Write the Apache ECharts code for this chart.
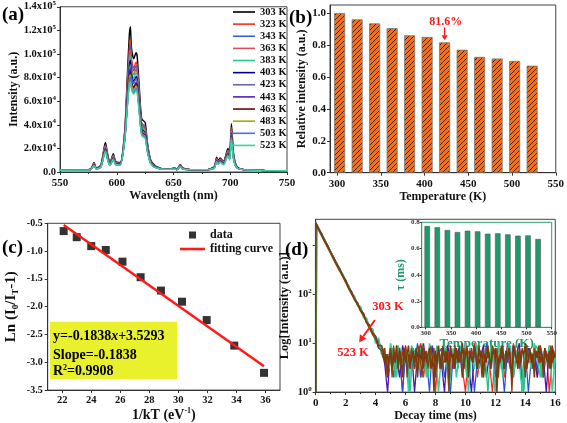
<!DOCTYPE html>
<html><head><meta charset="utf-8">
<script src="https://cdn.jsdelivr.net/npm/echarts@6/dist/echarts.min.js"></script>
<style>html,body{margin:0;padding:0;background:#fff}#c{width:567px;height:423px}</style>
</head><body><div id="c"></div>
<script>
// ---------- (a) emission spectra ----------
const wavelengths = [550,570,577,580,582,586,590,592,594,597,599,603,607,609,611,612,613,615,617,618,620,622,625,627,630,635,645,651,653,656,658,665,680,686,688,689.5,691,694,698,699.5,701,703,706,712,730,750];
const tempLabels = ['303 K','323 K','343 K','363 K','383 K','403 K','423 K','443 K','463 K','483 K','503 K','523 K'];
const spec303 = [1500,1600,2500,8000,3500,6000,25000,15000,8000,15500,9000,8000,35000,75000,115000,123000,105000,96000,101000,98000,70000,45000,42000,25000,10000,4500,2200,3500,2500,6500,3500,2000,2000,5000,12500,9500,12000,9000,20000,15000,41000,15000,4500,2000,1300,1000];
const spec323 = [1500,1600,2400,7400,3300,5600,23000,14000,7500,14300,8400,7500,33000,69000,104000,112000,96000,88000,93000,90000,64500,41500,38500,23000,9200,4200,2200,3300,2400,6000,3300,2000,2000,4600,11500,8800,11000,8300,18400,13800,37700,13800,4200,2000,1300,1000];
const spec343 = [1500,1600,2350,7100,3200,5400,22200,13400,7200,13800,8000,7200,32000,66500,100000,107000,93000,85500,90000,87000,62500,40000,37400,22300,8900,4100,2200,3200,2300,5800,3200,2000,2000,4500,11100,8500,10700,8000,17800,13400,36500,13400,4100,2000,1300,1000];
const spec363 = [1500,1600,2300,6900,3100,5200,21500,12900,6900,13300,7700,7000,31000,64000,97000,103500,90000,82500,87000,84500,60000,38700,36100,21500,8600,4000,2200,3100,2200,5600,3100,2000,2000,4300,10800,8200,10300,7700,17200,12900,35300,12900,4000,2000,1300,1000];
const spec383 = [1500,1600,2250,6600,3000,5000,20700,12500,6700,12900,7500,6800,30000,61500,92000,98500,86500,79500,84000,81500,58000,37300,34900,20800,8300,3900,2200,3000,2200,5400,3000,2000,2000,4200,10400,7900,10000,7500,16600,12500,34000,12500,3900,2000,1300,1000];
const spec403 = [1500,1600,2200,6400,2900,4800,20000,12000,6400,12400,7200,6600,29000,59000,88500,94700,83000,76800,80800,78400,56000,36000,33600,20000,8000,3800,2200,2900,2100,5200,2900,2000,2000,4000,10000,7600,9600,7200,16000,12000,32800,12000,3800,2000,1300,1000];
const spec423 = [1500,1600,2150,6200,2800,4700,19500,11700,6300,12100,7000,6500,28500,57000,85000,91000,80500,74900,78800,76400,54600,35100,32800,19500,7800,3700,2200,2800,2050,5100,2800,2000,2000,3900,9750,7400,9400,7000,15600,11700,32000,11700,3700,2000,1300,1000];
const spec443 = [1500,1600,2100,6000,2700,4500,18800,11300,6000,11600,6800,6300,28000,55000,82000,87300,77500,72000,75800,73500,52500,33800,31500,18800,7500,3600,2200,2700,2000,4900,2700,2000,2000,3800,9400,7100,9000,6800,15000,11300,30800,11300,3600,2000,1300,1000];
const spec463 = [1500,1600,2080,5900,2650,4450,18500,11100,5900,11500,6700,6200,27500,53500,80000,84900,75500,71000,74700,72500,51800,33300,31100,18500,7400,3550,2200,2650,1950,4800,2650,2000,2000,3700,9250,7000,8900,6700,14800,11100,30300,11100,3550,2000,1300,1000];
const spec483 = [1500,1600,2050,5800,2600,4300,18000,10800,5800,11200,6500,6100,27000,52000,78000,82400,73500,69100,72700,70600,50400,32400,30200,18000,7200,3500,2200,2600,1900,4700,2600,2000,2000,3600,9000,6800,8600,6500,14400,10800,29500,10800,3500,2000,1300,1000];
const spec503 = [1500,1600,2000,5600,2500,4200,17500,10500,5600,10900,6300,6000,26500,50500,75500,80000,71500,67200,70700,68600,49000,31500,29400,17500,7000,3400,2200,2500,1850,4600,2500,2000,2000,3500,8750,6650,8400,6300,14000,10500,28700,10500,3400,2000,1300,1000];
const spec523 = [1500,1600,2000,5400,2500,4100,17000,10200,5500,10500,6200,6000,27000,52000,73000,76300,70000,66000,69000,67000,48000,30600,28500,17000,6800,3300,2200,2400,1800,4400,2400,2000,2000,3400,8500,6500,8200,6100,13600,10200,27500,10200,3300,2000,1300,1000];
const spectra = [spec303,spec323,spec343,spec363,spec383,spec403,spec423,spec443,spec463,spec483,spec503,spec523];

// ---------- (b) relative intensity ----------
const temperatures = [303,323,343,363,383,403,423,443,463,483,503,523];
const relIntensity = [1.0,0.96,0.935,0.905,0.86,0.85,0.816,0.77,0.725,0.715,0.70,0.67];

// ---------- (c) Arrhenius fit ----------
const invKT = [22.1,23.0,24.0,25.0,26.15,27.4,28.8,30.25,31.95,33.85,35.9];
const lnRatio = [-0.64,-0.75,-0.91,-0.98,-1.19,-1.47,-1.71,-1.91,-2.24,-2.70,-3.19];
const fitX = [22.1,35.9];
const fitY = [-0.53,-3.07];

// ---------- (d) decay curves ----------
const decayTime = [0,0,0.2,0.4,0.6,0.8,1,1.2,1.4,1.6,1.8,2,2.2,2.4,2.6,2.8,3,3.2,3.4,3.6,3.8,4,4.2,4.4,4.6,4.8,5,5.2,5.4,5.6,5.8,6,6.2,6.4,6.6,6.8,7,7.2,7.4,7.6,7.8,8,8.2,8.4,8.6,8.8,9,9.2,9.4,9.6,9.8,10,10.2,10.4,10.6,10.8,11,11.2,11.4,11.6,11.8,12,12.2,12.4,12.6,12.8,13,13.2,13.4,13.6,13.8,14,14.2,14.4,14.6,14.8,15,15.2,15.4,15.6,15.8,16];
const decayTimeShift = [0,0.1,0.3,0.5,0.7,0.9,1.1,1.3,1.5,1.7,1.9,2.1,2.3,2.5,2.7,2.9,3.1,3.3,3.5,3.7,3.9,4.1,4.3,4.5,4.7,4.9,5.1,5.3,5.5,5.7,5.9,6.1,6.3,6.5,6.7,6.9,7.1,7.3,7.5,7.7,7.9,8.1,8.3,8.5,8.7,8.9,9.1,9.3,9.5,9.7,9.9,10.1,10.3,10.5,10.7,10.9,11.1,11.3,11.5,11.7,11.9,12.1,12.3,12.5,12.7,12.9,13.1,13.3,13.5,13.7,13.9,14.1,14.3,14.5,14.7,14.9,15.1,15.3,15.5,15.7,15.9];
const decayTimeFine = [0,0,0.2,0.4,0.6,0.8,1,1.2,1.4,1.6,1.8,2,2.2,2.4,2.6,2.8,3,3.2,3.4,3.6,3.8,4,4.2,4.4,
  4.5,4.6,4.7,4.8,4.9,5,5.1,5.2,5.3,5.4,5.5,5.6,5.7,5.8,5.9,6,6.1,6.2,6.3,6.4,6.5,6.6,6.7,6.8,6.9,7,7.1,7.2,7.3,7.4,
  7.5,7.6,7.7,7.8,7.9,8,8.1,8.2,8.3,8.4,8.5,8.6,8.7,8.8,8.9,9,9.1,9.2,9.3,9.4,9.5,9.6,9.7,9.8,9.9,10,10.1,10.2,10.3,10.4,
  10.5,10.6,10.7,10.8,10.9,11,11.1,11.2,11.3,11.4,11.5,11.6,11.7,11.8,11.9,12,12.1,12.2,12.3,12.4,12.5,12.6,12.7,12.8,12.9,13,13.1,13.2,13.3,13.4,
  13.5,13.6,13.7,13.8,13.9,14,14.1,14.2,14.3,14.4,14.5,14.6,14.7,14.8,14.9,15,15.1,15.2,15.3,15.4,15.5,15.6,15.7,15.8,15.9,16];
const decayRed = [1,3000,2300,1680,1300,1000,750,560,440,330,255,190,148,108,86,62,52,37,30,21,18,12,11,7,6,2,5,8,3,6,1,9,4,7,3,5,10,2,6,4,8,1,7,3,5,9,2,6,4,8,3,1,7,5,10,2,6,3,9,4,1,7,5,8,2,6,3,10,4,7,1,5,8,3,6,2,9,4,7,1,5,3];
const decayBlue = [1,2900,2250,1700,1320,960,760,550,430,320,260,185,150,105,88,60,54,35,31,20,19,11,12,6,7,4,7,2,9,5,1,6,3,8,4,10,2,7,5,1,9,3,6,8,2,5,1,7,4,9,3,6,2,8,1,5,7,3,10,4,6,2,8,5,1,7,3,9,4,6,2,8,1,5,7,3,9,2,6,4,8,5];
const decayPurple = [1,2850,2180,1750,1260,1010,720,580,410,340,240,200,138,115,78,68,46,41,26,24,15,14,8,8,4,1,8,4,6,2,9,5,3,7,1,6,4,10,3,5,8,2,7,4,1,9,5,3,6,8,2,10,4,1,7,3,5,9,2,6,8,1,4,7,3,9,5,2,6,10,1,4,8,3,6,2,7,5,1,9,4,6];
const decayTeal = [1,2950,2280,1660,1340,970,770,540,450,315,265,180,155,100,92,58,57,33,33,19,20,10,13,6,8,3,10,5,2,8,4,7,1,9,6,3,8,5,2,10,4,7,1,6,9,3,5,8,2,7,4,10,1,6,3,9,5,2,8,4,7,1,10,3,6,5,9,2,7,4,1,8,6,3,10,5,2,7,4,9,1,6];
const decayGreen = [1,2650,1980,1480,1150,850,660,480,380,285,225,165,128,95,75,55,45,32,26,18,16,10,9,5,6,3,8,2,9,5,4,7,1,8,6,3,10,5,2,7,4,9,3,6,8,1,5,7,3,9,6,2,8,4,10,3,5,7,1,9,4,6,8,2,5,10,3,7,4,6,1,8,5,3,9,7,2,6,4,8,3];
const decayMaroon = [1,2700,2050,1560,1180,900,680,510,390,300,230,175,130,100,76,60,45,36,26,20,15,12,8,7,
  5,8,3,6,4,7,2,9,5,6, 4,8,3,7,5,9,2,6,4,8, 5,3,7,6,9,4,2,8,5,7, 3,6,9,4,8,2,5,7,3,6, 9,4,7,5,1,8,6,3,9,5, 7,4,6,2,8,5,9,3,6,7,
  4,8,5,3,9,6,2,7,4,8, 5,6,3,9,7,4,8,2,6,5, 9,3,7,4,8,6,1,5,9,4, 7,3,6,8,5,2,9,4,7,6, 3,8,5,7,4,9,6,2,8,5, 6,3,9,4,7,5];
const decayBrown = [1,2950,2200,1720,1280,990,730,570,420,335,245,195,140,112,80,66,48,40,27,23,16,14,9,9,
  7,4,6,2,5,8,3,6,4,9, 3,7,5,2,8,4,6,9,3,5, 7,4,8,2,6,5,9,3,7,4, 6,8,3,5,1,7,4,9,5,3, 8,6,4,7,2,9,5,6,3,8, 4,7,5,10,3,6,8,2,7,5,
  4,9,6,3,8,5,7,2,6,4, 9,5,3,7,6,8,1,5,4,9, 6,3,7,5,8,4,2,9,6,5, 3,8,4,7,6,10,3,5,8,4, 6,2,7,5,9,4,6,3,8,5, 4,7,3,9,5,6];
const decaySets = [
  {v:decayRed,t:decayTime,c:'#ff2020',w:1.2},
  {v:decayBlue,t:decayTime,c:'#2850e0',w:1.2},
  {v:decayPurple,t:decayTime,c:'#4a18b0',w:1.3},
  {v:decayTeal,t:decayTime,c:'#2ed39a',w:1.5},
  {v:decayGreen,t:decayTimeShift,c:'#28c48c',w:1.4},
  {v:decayMaroon,t:decayTimeFine,c:'#8a4010',w:1.3},
  {v:decayBrown,t:decayTimeFine,c:'#7b3a0c',w:1.5}
];

// ---------- (d) inset lifetimes ----------
const lifetimes = [0.772,0.762,0.741,0.726,0.736,0.731,0.713,0.716,0.708,0.698,0.70,0.673];

// ---------- styling ----------
const SERIF = "'Liberation Serif','Times New Roman',serif";
const specColors = ['#000000','#ff2a1a','#3a60c8','#d8505a','#20c88a','#000088','#6868b0','#5020c0','#700018','#a8a800','#3a78e0','#3ccfa0'];

function merge(a,b){const o=Object.assign({},a);for(const k in b){if(b[k]&&typeof b[k]==='object'&&!Array.isArray(b[k])&&a[k]&&typeof a[k]==='object')o[k]=merge(a[k],b[k]);else o[k]=b[k];}return o;}
const base = {
  axisLine:{show:true,onZero:false,lineStyle:{color:'#333',width:1}},
  axisTick:{show:true,inside:false,length:3,lineStyle:{color:'#333'}},
  splitLine:{show:false},
  axisLabel:{color:'#111',fontFamily:SERIF,fontWeight:'bold',fontSize:11},
  nameLocation:'middle',
  nameTextStyle:{color:'#111',fontFamily:SERIF,fontWeight:'bold',fontSize:12}
};
const ax = o => merge(base,o);

function hatch(){
  const c=document.createElement('canvas');c.width=5;c.height=5;
  const g=c.getContext('2d');g.fillStyle='#f0701c';g.fillRect(0,0,5,5);
  g.strokeStyle='#2a1200';g.lineWidth=0.8;g.beginPath();
  g.moveTo(0,5);g.lineTo(5,0);g.moveTo(-1,1);g.lineTo(1,-1);g.moveTo(4,6);g.lineTo(6,4);g.stroke();
  return c;
}

const chart = echarts.init(document.getElementById('c'));
const gridBox = {show:true,borderColor:'#444',borderWidth:1,containLabel:false};

const series = [];
tempLabels.forEach((t,i)=>{
  series.push({type:'line',name:t,xAxisIndex:0,yAxisIndex:0,symbol:'none',smooth:0.25,
    data:wavelengths.map((w,j)=>[w,spectra[i][j]]),
    lineStyle:{width:1.4,color:specColors[i]},itemStyle:{color:specColors[i]},z:2+i*0.01});
});
series.push({type:'bar',xAxisIndex:1,yAxisIndex:1,barWidth:11,
  data:temperatures.map((t,i)=>[t,relIntensity[i]]),
  itemStyle:{color:{image:hatch(),repeat:'repeat'},borderColor:'#777',borderWidth:0.8}});
series.push({type:'scatter',name:'data',xAxisIndex:2,yAxisIndex:2,symbol:'rect',symbolSize:8,
  data:invKT.map((x,i)=>[x,lnRatio[i]]),itemStyle:{color:'#000'}});
series.push({type:'line',name:'fitting curve',xAxisIndex:2,yAxisIndex:2,symbol:'none',
  data:fitX.map((x,i)=>[x,fitY[i]]),lineStyle:{color:'#ff1a1a',width:2.5},itemStyle:{color:'#ff1a1a'}});
decaySets.forEach((s,k)=>{
  series.push({type:'line',name:'decay'+k,xAxisIndex:3,yAxisIndex:3,symbol:'none',
    data:s.t.map((t,i)=>[t,s.v[i]]),lineStyle:{width:s.w,color:s.c},z:3+k*0.01});
});
series.push({type:'bar',xAxisIndex:4,yAxisIndex:4,barWidth:5.5,
  data:temperatures.map((t,i)=>[t,lifetimes[i]]),
  itemStyle:{color:'#1f9a6c',borderColor:'#555',borderWidth:0.6},z:10});

const supRich = (fs)=>({
  m:{fontFamily:SERIF,fontWeight:'bold',fontSize:fs,lineHeight:fs+3,color:'#111'},
  e:{fontFamily:SERIF,fontWeight:'bold',fontSize:Math.round(fs*0.62),lineHeight:7,verticalAlign:'top',color:'#111'}
});
const lineIcon = 'path://M0,0L22,0L22,1.6L0,1.6Z';

chart.setOption({
  animation:false,
  backgroundColor:'#fff',
  grid:[
    Object.assign({left:60,top:6,width:227,height:166},gridBox),
    Object.assign({left:330,top:5,width:228,height:167.7},gridBox),
    Object.assign({left:47.7,top:223.3,width:232.3,height:172.7},gridBox),
    Object.assign({left:315.7,top:219.3,width:239.6,height:178},gridBox),
    {show:true,left:421.7,top:222.3,width:130,height:105,borderColor:'#2fa070',borderWidth:1,backgroundColor:'#fff'}
  ],
  xAxis:[
    ax({gridIndex:0,type:'value',min:550,max:750,interval:50,name:'Wavelength (nm)',nameGap:15,
      axisLabel:{margin:6},minorTick:{show:true,splitNumber:2,length:2,lineStyle:{color:'#333'}}}),
    ax({gridIndex:1,type:'value',min:292,max:550,name:'Temperature (K)',nameGap:15,
      axisLabel:{margin:6,customValues:[300,350,400,450,500,550]},axisTick:{customValues:[300,350,400,450,500,550]}}),
    ax({gridIndex:2,type:'value',min:21,max:37,name:'{a|1/kT (eV}{p|-1}{a|)}',nameGap:11,
      nameTextStyle:{rich:{a:{fontFamily:SERIF,fontWeight:'bold',fontSize:14,lineHeight:16,color:'#111'},p:{fontFamily:SERIF,fontWeight:'bold',fontSize:8,lineHeight:8,verticalAlign:'top',color:'#111'}}},
      axisLabel:{margin:5,fontSize:10.5,customValues:[22,24,26,28,30,32,34,36]},axisTick:{customValues:[22,24,26,28,30,32,34,36]}}),
    ax({gridIndex:3,type:'value',min:0,max:16,interval:2,name:'Decay time (ms)',nameGap:14,
      axisLabel:{margin:6,fontSize:11},minorTick:{show:true,splitNumber:2,length:2,lineStyle:{color:'#333'}}}),
    ax({gridIndex:4,type:'value',min:292,max:550,axisLine:{lineStyle:{color:'#2fa070'}},
      name:'Temperature (K)',nameGap:8,nameTextStyle:{color:'#1f9a6c',fontSize:13},
      axisTick:{length:2,customValues:[300,350,400,450,500,550]},
      axisLabel:{margin:2,fontSize:7,color:'#333',customValues:[300,350,400,450,500,550]}})
  ],
  yAxis:[
    ax({gridIndex:0,type:'value',min:0,max:140000,interval:20000,name:'Intensity (a.u.)',nameGap:40,
      axisLabel:{margin:4,formatter:v=>{if(v===0)return '{m|0.0}';const e=Math.floor(Math.log10(v)+1e-9);return '{m|'+(v/Math.pow(10,e)).toFixed(1)+'x10}{e|'+e+'}';},rich:supRich(10.5)}}),
    ax({gridIndex:1,type:'value',min:0,max:1.05,interval:0.2,name:'Relative intensity (a.u.)',nameGap:17,
      axisLabel:{margin:4,formatter:v=>v.toFixed(1)}}),
    ax({gridIndex:2,type:'value',min:-3.5,max:-0.5,interval:0.5,name:'{a|Ln (I}{s|0}{a|/I}{s|T}{a|-1)}',nameGap:28,
      nameTextStyle:{rich:{a:{fontFamily:SERIF,fontWeight:'bold',fontSize:15,lineHeight:18,color:'#111'},s:{fontFamily:SERIF,fontWeight:'bold',fontSize:9,lineHeight:9,verticalAlign:'bottom',color:'#111'}}},
      axisLabel:{margin:5,fontSize:10,formatter:v=>v.toFixed(1)}}),
    ax({gridIndex:3,type:'log',logBase:10,min:1,max:3460,name:'Log[Intensity (a.u.)]',nameGap:24,
      nameTextStyle:{fontSize:12.5},
      axisLabel:{margin:4,showMaxLabel:false,formatter:v=>{const l=Math.log10(v),e=Math.round(l);return (Math.abs(l-e)>0.01||e===3)?'':'{m|10}{e|'+e+'}';},rich:supRich(10.5)}}),
    ax({gridIndex:4,type:'value',min:0,max:0.8,interval:0.2,axisLine:{lineStyle:{color:'#2fa070'}},
      name:'τ (ms)',nameGap:14,nameTextStyle:{color:'#1f9a6c',fontSize:12},
      axisTick:{length:2},axisLabel:{margin:2,fontSize:7,color:'#333',formatter:v=>v.toFixed(1)}})
  ],
  legend:[
    {data:tempLabels.map(n=>({name:n,icon:lineIcon})),left:233,top:6,orient:'vertical',itemWidth:22,itemHeight:12,itemGap:0.13,padding:0,selectedMode:false,
      textStyle:{fontFamily:SERIF,fontWeight:'bold',fontSize:10.5,lineHeight:12,color:'#111'}},
    {data:[{name:'data',icon:'path://M0,0L8,0L8,8L0,8Z'},{name:'fitting curve',icon:'path://M0,0L25,0L25,2.6L0,2.6Z'}],
      left:180,top:228,orient:'vertical',itemWidth:25,itemHeight:7,itemGap:0,padding:0,selectedMode:false,
      textStyle:{fontFamily:SERIF,fontWeight:'bold',fontSize:12,lineHeight:14,color:'#111'}}
  ],
  series:series
});

// ---------- annotations ----------
function arrow(p0,p1,color,w,hl,hw){
  const dx=p1[0]-p0[0],dy=p1[1]-p0[1],L=Math.hypot(dx,dy),ux=dx/L,uy=dy/L;
  const bx=p1[0]-ux*hl,by=p1[1]-uy*hl;
  return [
    {type:'line',z:100,shape:{x1:p0[0],y1:p0[1],x2:bx,y2:by},style:{stroke:color,lineWidth:w}},
    {type:'polygon',z:100,shape:{points:[[p1[0],p1[1]],[bx-uy*hw,by+ux*hw],[bx+uy*hw,by-ux*hw]]},style:{fill:color}}
  ];
}
const lbl = (t,x,y,fs)=>({type:'text',z:100,style:{text:t,x:x,y:y,fill:'#000',font:'bold '+fs+'px '+SERIF,textVerticalAlign:'middle'}});
const pb = chart.convertToPixel({gridIndex:1},[423,0.816]);
const pdA = chart.convertToPixel({gridIndex:3},[3.96,30]);
const pdB = chart.convertToPixel({gridIndex:3},[2.9,10.5]);
const p303 = chart.convertToPixel({gridIndex:3},[4.83,56]);
const p523 = chart.convertToPixel({gridIndex:3},[2.49,6.4]);
const boxRich = {
  b:{fontFamily:SERIF,fontWeight:'bold',fontSize:14,fill:'#000'},
  i:{fontFamily:SERIF,fontWeight:'bold',fontStyle:'italic',fontSize:14,fill:'#000'},
  sup:{fontFamily:SERIF,fontWeight:'bold',fontSize:8,fill:'#000',verticalAlign:'top',lineHeight:8}
};
const els = [
  lbl('(a)',2,15,19), lbl('(b)',289,18,19), lbl('(c)',2,248,19), lbl('(d)',285,250,19),
  {type:'text',z:100,style:{text:'81.6%',x:pb[0]+1,y:pb[1]-20,fill:'#ff1a1a',font:'bold 12px '+SERIF,textAlign:'center',textVerticalAlign:'middle'}},
  ...arrow([pb[0],pb[1]-15],[pb[0],pb[1]-2],'#ff1a1a',1.5,5,3),
  ...arrow(pdA,pdB,'#ff1a1a',2,7,4),
  {type:'text',z:100,style:{text:'303 K',x:p303[0],y:p303[1],fill:'#ff1a1a',font:'bold 12.5px '+SERIF,textAlign:'center',textVerticalAlign:'middle'}},
  {type:'text',z:100,style:{text:'523 K',x:p523[0],y:p523[1],fill:'#ff1a1a',font:'bold 12.5px '+SERIF,textAlign:'center',textVerticalAlign:'middle'}},
  {type:'rect',z:50,shape:{x:50,y:321.7,width:127,height:57.6},style:{fill:'#e9f02c'}},
  {type:'text',z:60,style:{text:'{b|y=-0.1838}{i|x}{b|+3.5293}',x:53,y:336,rich:boxRich,textVerticalAlign:'middle'}},
  {type:'text',z:60,style:{text:'{b|Slope=-0.1838}',x:53,y:355,rich:boxRich,textVerticalAlign:'middle'}},
  {type:'text',z:60,style:{text:'{b|R}{sup|2}{b|=0.9908}',x:53,y:371,rich:boxRich,textVerticalAlign:'middle'}}
];
chart.setOption({graphic:{elements:els}});
</script>
</body></html>
